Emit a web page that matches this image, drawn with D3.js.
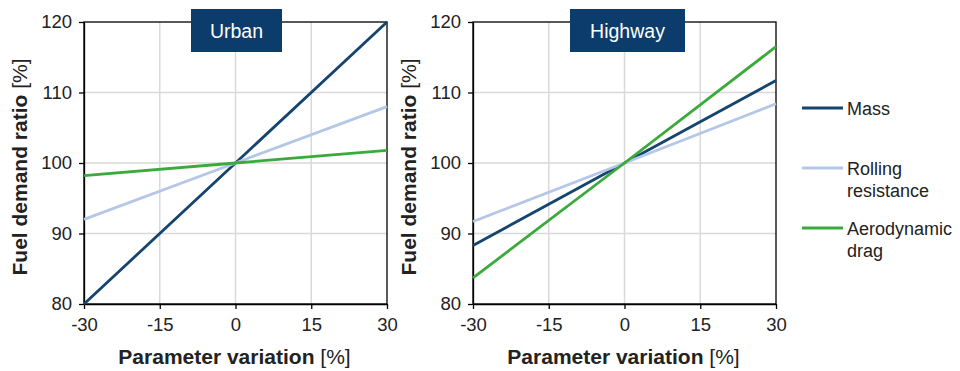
<!DOCTYPE html>
<html>
<head>
<meta charset="utf-8">
<script src="https://cdn.jsdelivr.net/npm/d3@7"></script>
<style>
  body { margin: 0; background: #fff; }
  svg { font-family: "Liberation Sans", Arial, sans-serif; }
</style>
</head>
<body>
<svg id="chart" width="960" height="371"></svg>
<script>
const xValues = [-30, 0, 30];
const xTicks = [-30, -15, 0, 15, 30];
const yTicks = [80, 90, 100, 110, 120];
const seriesNames = ["Mass", "Rolling resistance", "Aerodynamic drag"];
const seriesColors = ["#15446f", "#b4c7e7", "#3aaa3a"];
const urbanMass = [80, 100, 120];
const urbanRolling = [92, 100, 108];
const urbanAero = [98.2, 100, 101.8];
const highwayMass = [88.3, 100, 111.7];
const highwayRolling = [91.7, 100, 108.4];
const highwayAero = [83.7, 100, 116.5];

const svg = d3.select("#chart");

const panels = [
  { title: "Urban", left: 84, series: [urbanMass, urbanRolling, urbanAero], boxW: 91 },
  { title: "Highway", left: 473, series: [highwayMass, highwayRolling, highwayAero], boxW: 115 }
];
const plotW = 303, plotTop = 22, plotH = 282;

panels.forEach(p => {
  const g = svg.append("g").attr("transform", `translate(${p.left},${plotTop})`);
  const x = d3.scaleLinear().domain([-30, 30]).range([0, plotW]);
  const y = d3.scaleLinear().domain([80, 120]).range([plotH, 0]);

  // grid
  g.selectAll("line.vg").data(xTicks.slice(1, -1)).enter().append("line")
    .attr("x1", d => x(d)).attr("x2", d => x(d)).attr("y1", 0).attr("y2", plotH)
    .attr("stroke", "#d9d9d9").attr("stroke-width", 1.5);
  g.selectAll("line.hg").data(yTicks.slice(1, -1)).enter().append("line")
    .attr("y1", d => y(d)).attr("y2", d => y(d)).attr("x1", 0).attr("x2", plotW)
    .attr("stroke", "#d9d9d9").attr("stroke-width", 1.5);

  // frame
  g.append("rect").attr("width", plotW).attr("height", plotH)
    .attr("fill", "none").attr("stroke", "#000").attr("stroke-width", 1.3);

  const xa = g.append("g").attr("transform", `translate(0,${plotH})`)
    .call(d3.axisBottom(x).tickValues(xTicks).tickFormat(d => String(d))
      .tickSize(5).tickSizeOuter(0).tickPadding(9));
  const ya = g.append("g")
    .call(d3.axisLeft(y).tickValues(yTicks).tickFormat(d => String(d))
      .tickSize(5).tickSizeOuter(0).tickPadding(7));
  [xa, ya].forEach(a => {
    a.select(".domain").attr("stroke", "#000").attr("stroke-width", 1.3);
    a.selectAll(".tick line").attr("stroke", "#000").attr("stroke-width", 1.3);
    a.selectAll("text").attr("font-size", 18.5).attr("fill", "#222")
      .attr("font-family", "Liberation Sans, Arial, sans-serif");
  });

  const line = d3.line().x((d, i) => x(xValues[i])).y(d => y(d));
  p.series.forEach((s, i) => {
    g.append("path").datum(s).attr("d", line).attr("fill", "none")
      .attr("stroke", seriesColors[i]).attr("stroke-width", 2.8);
  });

  // title box
  const cx = x(0) + (p.title === "Urban" ? 1 : 3);
  svg.append("rect").attr("x", p.left + cx - p.boxW / 2).attr("y", 9)
    .attr("width", p.boxW).attr("height", 43).attr("fill", "#0b3c6b");
  svg.append("text").attr("x", p.left + cx).attr("y", 38)
    .attr("text-anchor", "middle").attr("fill", "#fff").attr("font-size", 19.5)
    .text(p.title);

  // axis titles
  const xt = svg.append("text").attr("x", p.left + plotW / 2 - 1).attr("y", 364)
    .attr("text-anchor", "middle").attr("font-size", 21).attr("fill", "#222");
  xt.append("tspan").attr("font-weight", "bold").text("Parameter variation ");
  xt.append("tspan").text("[%]");

  const yt = svg.append("text")
    .attr("transform", `translate(${p.left - 57},${plotTop + plotH / 2 + 4}) rotate(-90)`)
    .attr("text-anchor", "middle").attr("font-size", 21).attr("fill", "#222");
  yt.append("tspan").attr("font-weight", "bold").text("Fuel demand ratio ");
  yt.append("tspan").text("[%]");
});

// legend
const legendY = [108, 168, 228];
const legendLines = [["Mass"], ["Rolling", "resistance"], ["Aerodynamic", "drag"]];
const lg = svg.append("g");
seriesNames.forEach((n, i) => {
  lg.append("line").attr("x1", 802).attr("x2", 843)
    .attr("y1", legendY[i]).attr("y2", legendY[i])
    .attr("stroke", seriesColors[i]).attr("stroke-width", 2.8);
  const t = lg.append("text").attr("x", 847).attr("y", legendY[i] + 6.5)
    .attr("font-size", 18).attr("fill", "#222");
  legendLines[i].forEach((w, j) => {
    t.append("tspan").attr("x", 847).attr("dy", j === 0 ? 0 : 22).text(w);
  });
});
</script>
</body>
</html>
